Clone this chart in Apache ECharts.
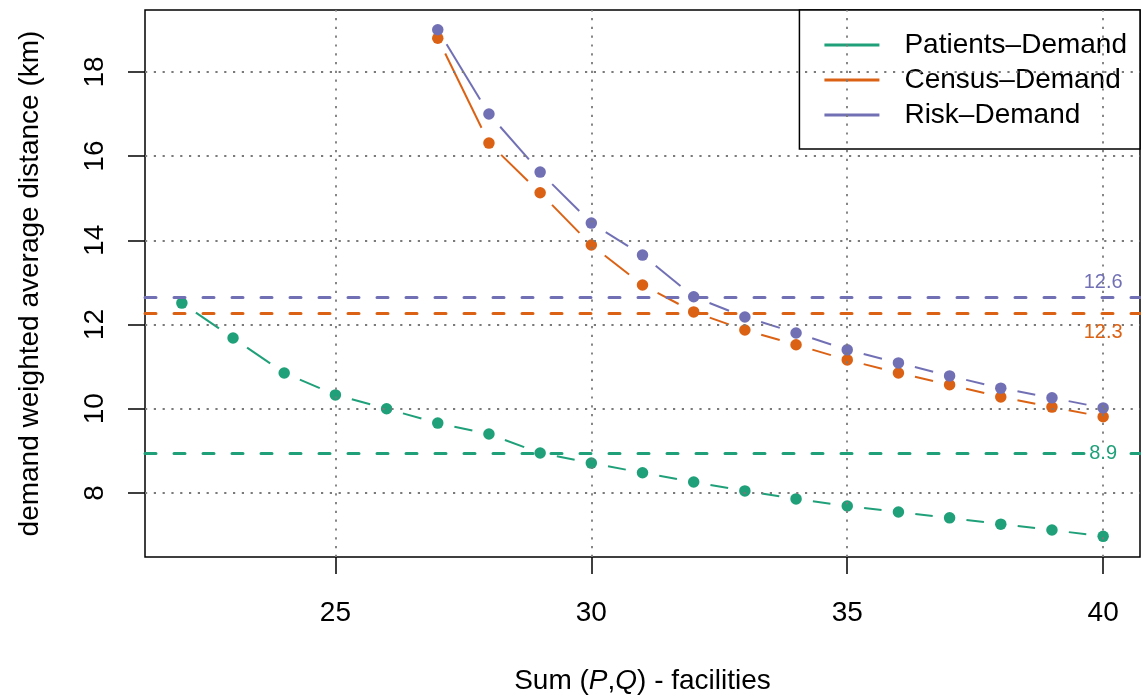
<!DOCTYPE html>
<html>
<head>
<meta charset="utf-8">
<script src="https://cdn.jsdelivr.net/npm/echarts@6/dist/echarts.min.js"></script>
<style>html,body{margin:0;padding:0;background:#fff;}#c{width:1141px;height:695px;}</style>
</head>
<body>
<div id="c"></div>
<script>
// ---- data ----
const seriesNames = ['Patients\u2013Demand', 'Census\u2013Demand', 'Risk\u2013Demand'];
const xPatients = [22,23,24,25,26,27,28,29,30,31,32,33,34,35,36,37,38,39,40];
const patients = [12.51,11.68,10.85,10.33,10.00,9.66,9.40,8.95,8.71,8.48,8.26,8.05,7.86,7.69,7.55,7.41,7.26,7.12,6.97];
const xOthers = [27,28,29,30,31,32,33,34,35,36,37,38,39,40];
const census = [18.80,16.31,15.13,13.89,12.94,12.30,11.87,11.52,11.16,10.85,10.57,10.28,10.04,9.81];
const risk = [19.00,17.00,15.62,14.41,13.65,12.66,12.18,11.80,11.40,11.09,10.78,10.49,10.26,10.02];
const refValues = [8.94, 12.28, 12.64];   // average lines (Patients, Census, Risk)
const xTicks = [25,30,35,40];
const yTicks = [8,10,12,14,16,18];

const colors = ['#1FA079', '#DB6214', '#7270B5'];
const FONT = "'Liberation Sans', Arial, Helvetica, sans-serif";

const xs = [xPatients, xOthers, xOthers];
const ys = [patients, census, risk];

function pairs(x, y) { return x.map((v, i) => [v, y[i]]); }
function segs(x, y) {
  const out = [];
  for (let i = 0; i < x.length - 1; i++) out.push([x[i], y[i], x[i+1], y[i+1]]);
  return out;
}

const series = [];
// grid lines
series.push({
  type: 'line', name: 'grid', data: [], z: 1, silent: true,
  markLine: {
    symbol: 'none', silent: true, animation: false,
    label: { show: false },
    lineStyle: { color: '#7a7a7a', width: 1.8, type: [2.2, 6.6] },
    data: xTicks.map(v => ({ xAxis: v })).concat(yTicks.map(v => ({ yAxis: v })))
  }
});
// horizontal reference lines
refValues.forEach((v, k) => {
  series.push({
    type: 'line', name: 'ref' + k, data: [], z: 2, silent: true,
    markLine: {
      symbol: 'none', silent: true, animation: false,
      label: { show: false },
      lineStyle: { color: colors[k], width: 3, type: [11, 18], cap: 'round' },
      data: [{ yAxis: v }]
    }
  });
});
// segments (R type="b" style: lines with gaps around points)
ys.forEach((y, k) => {
  series.push({
    type: 'custom', name: 'seg' + k, z: 3, silent: true,
    data: segs(xs[k], y),
    encode: { x: [0, 2], y: [1, 3] },
    renderItem: function (params, api) {
      const a = api.coord([api.value(0), api.value(1)]);
      const b = api.coord([api.value(2), api.value(3)]);
      const dx = b[0] - a[0], dy = b[1] - a[1];
      const len = Math.sqrt(dx * dx + dy * dy);
      const g = 17;
      if (len <= 2 * g) return null;
      const ux = dx / len, uy = dy / len;
      return {
        type: 'line',
        shape: { x1: a[0] + ux * g, y1: a[1] + uy * g, x2: b[0] - ux * g, y2: b[1] - uy * g },
        style: { stroke: colors[k], lineWidth: 2, fill: null }
      };
    }
  });
});
// points
ys.forEach((y, k) => {
  series.push({
    type: 'scatter', name: seriesNames[k], z: 4,
    data: pairs(xs[k], y), symbol: 'circle', symbolSize: 11.5,
    itemStyle: { color: colors[k], opacity: 1 }
  });
});
// labels of reference lines
const refOffsets = [[0, 0], [0, 20], [0, -15]];
refValues.forEach((v, k) => {
  series.push({
    type: 'scatter', name: 'lab' + k, z: 5, silent: true,
    data: [[40, v]], symbolSize: 1,
    itemStyle: { color: 'transparent', opacity: 1 },
    label: {
      show: true, position: 'inside', offset: refOffsets[k],
      formatter: () => v.toFixed(1),
      color: colors[k], fontSize: 20, fontFamily: FONT,
      textBorderWidth: 0, textBorderColor: 'transparent',
      backgroundColor: k === 0 ? '#fff' : 'transparent', padding: [0, 3]
    }
  });
});

const chart = echarts.init(document.getElementById('c'), null, { renderer: 'canvas' });
chart.setOption({
  animation: false,
  backgroundColor: '#fff',
  textStyle: { fontFamily: FONT },
  grid: {
    left: 145, right: 1, top: 10, bottom: 138,
    containLabel: false, outerBoundsMode: 'none',
    show: true, borderColor: '#000', borderWidth: 1.5, backgroundColor: 'transparent'
  },
  legend: {
    orient: 'vertical', right: 1, top: 10,
    backgroundColor: '#fff', borderColor: '#000', borderWidth: 1.5, borderRadius: 0,
    padding: [21, 13, 20, 25], itemGap: 7, itemWidth: 55, itemHeight: 3,
    selectedMode: false,
    data: seriesNames.map(n => ({ name: n, icon: 'rect' })),
    textStyle: { fontSize: 28, color: '#000', fontFamily: FONT, padding: [0, 0, 0, 20] }
  },
  xAxis: {
    type: 'value', min: 21.28, max: 40.72,
    axisLine: { show: false },
    splitLine: { show: false },
    axisTick: { show: true, length: 17, customValues: xTicks, lineStyle: { color: '#000', width: 1.5 } },
    axisLabel: { customValues: xTicks, fontSize: 28, color: '#000', margin: 42, fontFamily: FONT },
    name: '{n|Sum (}{i|P}{n|,}{i|Q}{n|) - facilities}',
    nameLocation: 'middle', nameGap: 110,
    nameTextStyle: {
      rich: {
        n: { fontSize: 28, color: '#000', fontFamily: FONT },
        i: { fontSize: 28, color: '#000', fontFamily: FONT, fontStyle: 'italic' }
      }
    }
  },
  yAxis: {
    type: 'value', min: 6.48, max: 19.47,
    axisLine: { show: false },
    splitLine: { show: false },
    axisTick: { show: true, length: 17, customValues: yTicks, lineStyle: { color: '#000', width: 1.5 } },
    axisLabel: { customValues: yTicks, fontSize: 28, color: '#000', margin: 36, rotate: 90, fontFamily: FONT },
    name: 'demand weighted average distance (km)',
    nameLocation: 'middle', nameGap: 101, nameRotate: 90,
    nameTextStyle: { fontSize: 28, color: '#000', fontFamily: FONT }
  },
  series: series
});
</script>
</body>
</html>
